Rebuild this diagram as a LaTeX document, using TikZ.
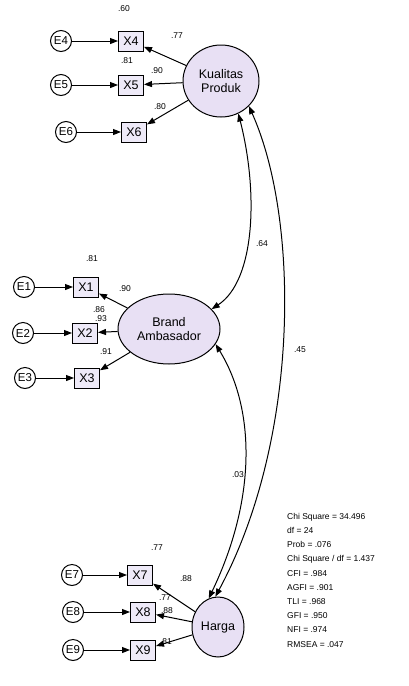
\documentclass[tikz,border=0pt]{standalone}
\usepackage{fontspec}
\setmainfont{Liberation Sans}
\usetikzlibrary{arrows.meta, positioning, shapes.geometric}
\definecolor{lavender}{RGB}{232,224,244}
\definecolor{lightlav}{RGB}{238,234,248}
\tikzset{
    latent/.style={ellipse, draw=black, line width=1pt, fill=lavender, align=center,
        inner sep=1pt, font=\fontsize{12.5}{13.5}\selectfont},
    ind/.style={rectangle, draw=black, line width=1pt, fill=lightlav, minimum width=25pt,
        minimum height=20pt, inner sep=1pt, font=\fontsize{12.5}{12.5}\selectfont},
    err/.style={circle, draw=black, line width=1pt, fill=white, minimum size=21pt,
        inner sep=0pt, font=\fontsize{11.5}{11.5}\selectfont},
    lbl/.style={font=\fontsize{8.5}{8.5}\selectfont, inner sep=1pt},
    arrow/.style={-{Triangle[length=8pt, width=6pt]}, line width=1pt},
    cov/.style={{Triangle[length=8pt, width=6pt]}-{Triangle[length=8pt, width=6pt]}, line width=1pt},
}

\begin{document}
\begin{tikzpicture}[x=1pt, y=-1pt]
    \useasboundingbox (0,0) rectangle (408,686);
    % latent variables
    \node[latent, minimum width=76pt, minimum height=72pt] (kp) at (221,81) {Kualitas\\Produk};
    \node[latent, minimum width=102pt, minimum height=70pt] (ba) at (169,329) {Brand\\Ambasador};
    \node[latent, minimum width=52pt, minimum height=60pt] (hg) at (218,627) {Harga};
    % indicators
    \node[ind] (x4) at (131,41) {X4};
    \node[ind] (x5) at (131,85) {X5};
    \node[ind] (x6) at (134,132) {X6};
    \node[ind] (x1) at (86,287) {X1};
    \node[ind] (x2) at (85,333) {X2};
    \node[ind] (x3) at (87,378) {X3};
    \node[ind] (x7) at (140,575) {X7};
    \node[ind] (x8) at (143,612) {X8};
    \node[ind] (x9) at (143,650) {X9};
    % errors
    \node[err, left=46pt of x4] (e4) {E4};
    \node[err, left=46pt of x5] (e5) {E5};
    \node[err, left=44pt of x6] (e6) {E6};
    \node[err, left=38pt of x1] (e1) {E1};
    \node[err, left=38pt of x2] (e2) {E2};
    \node[err, left=38pt of x3] (e3) {E3};
    \node[err, left=44pt of x7] (e7) {E7};
    \node[err, left=46pt of x8] (e8) {E8};
    \node[err, left=46pt of x9] (e9) {E9};
    \foreach \i in {1,...,9}
        \draw[arrow] (e\i) -- (x\i);
    % loadings
    \draw[arrow] (kp) -- (x4);
    \draw[arrow] (kp) -- (x5);
    \draw[arrow] (kp) -- (x6);
    \draw[arrow] (ba) -- (x1);
    \draw[arrow] (ba) -- (x2);
    \draw[arrow] (ba) -- (x3);
    \draw[arrow] (hg) -- (x7);
    \draw[arrow] (hg) -- (x8);
    \draw[arrow] (hg) -- (x9);
    % covariances
    \draw[cov] (kp.-62) .. controls (258,190) and (256,280) .. (ba.25);
    \draw[cov] (kp.-42) .. controls (300,220) and (300,440) .. (hg.95);
    \draw[cov] (ba.-18) .. controls (256,410) and (256,500) .. (hg.108);
    % estimates
    \node[lbl] (r4) at (124,9) {.60};
    \node[lbl] (l4) at (177,36) {.77};
    \node[lbl] (r5) at (127,61) {.81};
    \node[lbl] (l5) at (157,71) {.90};
    \node[lbl] (r6) at (160,107) {.80};
    \node[lbl] (r1) at (92,259) {.81};
    \node[lbl] (l1) at (125,289) {.90};
    \node[lbl] (r2) at (99,310) {.86};
    \node[lbl] (l2) at (101,319) {.93};
    \node[lbl] (l3) at (106,352) {.91};
    \node[lbl] (r7) at (157,548) {.77};
    \node[lbl] (l7) at (186,579) {.88};
    \node[lbl] (r8) at (165,598) {.77};
    \node[lbl] (l8) at (167,611) {.88};
    \node[lbl] (l9) at (166,642) {.81};
    \node[lbl] (c1) at (262,244) {.64};
    \node[lbl] (c2) at (300,350) {.45};
    \node[lbl] (c3) at (238,475) {.03};
    % fit statistics
    \node[anchor=north west, align=left, inner sep=0pt,
        font=\fontsize{8.5}{14.2}\selectfont] (fit) at (287,513)
        {Chi Square = 34.496\\df = 24\\Prob = .076\\Chi Square / df = 1.437\\
         CFI = .984\\AGFI = .901\\TLI = .968\\GFI = .950\\NFI = .974\\RMSEA = .047};
\end{tikzpicture}
\end{document}
